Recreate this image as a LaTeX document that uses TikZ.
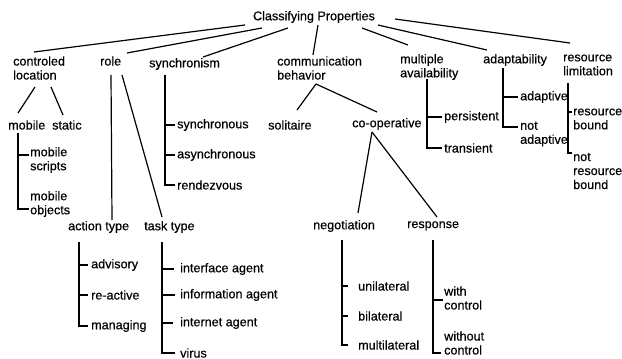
\documentclass[tikz,border=0pt]{standalone}
\usepackage{fontspec}
\setmainfont{Liberation Sans}[FakeBold=0.5]
\begin{document}
\begin{tikzpicture}[x=1pt,y=-1pt,font=\fontsize{12.6}{14}\selectfont,
  lbl/.style={anchor=west,inner sep=0pt,align=left},
  con/.style={line width=1.2pt,black}]
\fill[white] (0,0) rectangle (622,359);
\useasboundingbox (0,0) rectangle (622,359);
% top
\node[inner sep=0pt] (cp) at (314,17) {Classifying Properties};
% level 1
\node[lbl] (cl) at (13,68) {controled\\location};
\node[lbl] (role) at (100,61) {role};
\node[lbl] (syn) at (149,64) {synchronism};
\node[lbl] (cb) at (277,68) {communication\\behavior};
\node[lbl] (ma) at (400,67) {multiple\\availability};
\node[lbl] (ad) at (483,60) {adaptability};
\node[lbl] (rl) at (563,65) {resource\\limitation};
% level 2
\node[lbl] (mob) at (8,125) {mobile};
\node[lbl] (sta) at (52,125) {static};
\node[lbl] (ms) at (30,160) {mobile\\scripts};
\node[lbl] (mo) at (30,204) {mobile\\objects};
\node[lbl] (s1) at (177,125) {synchronous};
\node[lbl] (s2) at (177,155) {asynchronous};
\node[lbl] (s3) at (177,185) {rendezvous};
\node[lbl] (sol) at (268,125) {solitaire};
\node[lbl] (coop) at (352,124) {co-operative};
\node[lbl] (per) at (444,117) {persistent};
\node[lbl] (tra) at (444,148) {transient};
\node[lbl] (adp) at (520,97) {adaptive};
\node[lbl] (nad) at (520,134) {not\\adaptive};
\node[lbl] (rb) at (573,119) {resource\\bound};
\node[lbl] (nrb) at (573,171) {not\\resource\\bound};
\node[lbl] (at) at (68,227) {action type};
\node[lbl] (tt) at (144,227) {task type};
\node[lbl] (neg) at (313,226) {negotiation};
\node[lbl] (resp) at (407,226) {response};
\node[lbl] (adv) at (91,265) {advisory};
\node[lbl] (rea) at (91,295) {re-active};
\node[lbl] (man) at (91,326) {managing};
\node[lbl] (ia) at (180,269) {interface agent};
\node[lbl] (inf) at (180,295) {information agent};
\node[lbl] (int) at (180,323) {internet agent};
\node[lbl] (vir) at (180,353) {virus};
\node[lbl] (uni) at (358,286) {unilateral};
\node[lbl] (bil) at (358,316) {bilateral};
\node[lbl] (mul) at (358,345) {multilateral};
\node[lbl] (wc) at (444,298) {with\\control};
\node[lbl] (woc) at (444,343) {without\\control};
% top-level connectors
\draw[con] ([xshift=-69pt,yshift=-8pt]cp.center) -- ([xshift=21pt,yshift=16pt]cl.west);
\draw[con] ([xshift=-52pt,yshift=-11pt]cp.center) -- ([xshift=27pt,yshift=8pt]role.west);
\draw[con] ([xshift=-26pt,yshift=-11pt]cp.center) -- ([xshift=54pt,yshift=7pt]syn.west);
\draw[con] ([xshift=4pt,yshift=-8pt]cp.center) -- ([xshift=36pt,yshift=13pt]cb.west);
\draw[con] ([xshift=48pt,yshift=-11pt]cp.center) -- ([xshift=8pt,yshift=22pt]ma.west);
\draw[con] ([xshift=64pt,yshift=-8pt]cp.center) -- ([xshift=4pt,yshift=10pt]ad.west);
\draw[con] ([xshift=81pt,yshift=-2pt]cp.center) -- ([xshift=7pt,yshift=22pt]rl.west);
% tree branches
\draw[con] ([xshift=22pt,yshift=-19pt]cl.west) -- ([xshift=10pt,yshift=12pt]mob.west);
\draw[con] ([xshift=38pt,yshift=-19pt]cl.west) -- ([xshift=11pt,yshift=10pt]sta.west);
\draw[con] ([xshift=39pt,yshift=-16pt]cb.west) -- ([xshift=29pt,yshift=15pt]sol.west);
\draw[con] ([xshift=39pt,yshift=-16pt]cb.west) -- ([xshift=25pt,yshift=12pt]coop.west);
\draw[con] ([xshift=20pt,yshift=-8pt]coop.west) -- ([xshift=45pt,yshift=13pt]neg.west);
\draw[con] ([xshift=20pt,yshift=-8pt]coop.west) -- ([xshift=30pt,yshift=9pt]resp.west);
\draw[con] ([xshift=11pt,yshift=-14pt]role.west) -- ([xshift=44pt,yshift=7pt]at.west);
\draw[con] ([xshift=22pt,yshift=-14pt]role.west) -- ([xshift=18pt,yshift=10pt]tt.west);
% combs
\draw[con] ([xshift=10pt,yshift=-8pt]mob.west) |- ([xshift=-1pt,yshift=5pt]ms.west);
\draw[con] ([xshift=10pt,yshift=-8pt]mob.west) |- ([xshift=-1pt,yshift=-5pt]mo.west);
\draw[con] ([xshift=16pt,yshift=-11pt]syn.west) |- ([xshift=-2pt]s1.west);
\draw[con] ([xshift=16pt,yshift=-11pt]syn.west) |- ([xshift=-2pt]s2.west);
\draw[con] ([xshift=16pt,yshift=-11pt]syn.west) |- ([xshift=-2pt]s3.west);
\draw[con] ([xshift=27pt,yshift=-12pt]ma.west) |- ([xshift=-2pt]per.west);
\draw[con] ([xshift=27pt,yshift=-12pt]ma.west) |- ([xshift=-2pt]tra.west);
\draw[con] ([xshift=20pt,yshift=-8pt]ad.west) |- ([xshift=-2pt]adp.west);
\draw[con] ([xshift=20pt,yshift=-8pt]ad.west) |- ([xshift=-2pt,yshift=7pt]nad.west);
\draw[con] ([xshift=5pt,yshift=-18pt]rl.west) |- ([xshift=-1pt,yshift=7pt]rb.west);
\draw[con] ([xshift=5pt,yshift=-18pt]rl.west) |- ([xshift=-1pt,yshift=18pt]nrb.west);
\draw[con] ([xshift=11pt,yshift=-15pt]at.west) |- ([xshift=-3pt]adv.west);
\draw[con] ([xshift=11pt,yshift=-15pt]at.west) |- ([xshift=-3pt]rea.west);
\draw[con] ([xshift=11pt,yshift=-15pt]at.west) |- ([xshift=-3pt]man.west);
\draw[con] ([xshift=18pt,yshift=-15pt]tt.west) |- ([xshift=-6pt]ia.west);
\draw[con] ([xshift=18pt,yshift=-15pt]tt.west) |- ([xshift=-5pt]inf.west);
\draw[con] ([xshift=18pt,yshift=-15pt]tt.west) |- ([xshift=-7pt]int.west);
\draw[con] ([xshift=18pt,yshift=-15pt]tt.west) |- ([xshift=-5pt]vir.west);
\draw[con] ([xshift=29pt,yshift=-14pt]neg.west) |- ([xshift=-10pt]uni.west);
\draw[con] ([xshift=29pt,yshift=-14pt]neg.west) |- ([xshift=-10pt]bil.west);
\draw[con] ([xshift=29pt,yshift=-14pt]neg.west) |- ([xshift=-10pt]mul.west);
\draw[con] ([xshift=26pt,yshift=-14pt]resp.west) |- ([xshift=-1pt,yshift=-2pt]wc.west);
\draw[con] ([xshift=26pt,yshift=-14pt]resp.west) |- ([xshift=-3pt,yshift=-10pt]woc.west);
\end{tikzpicture}
\end{document}
